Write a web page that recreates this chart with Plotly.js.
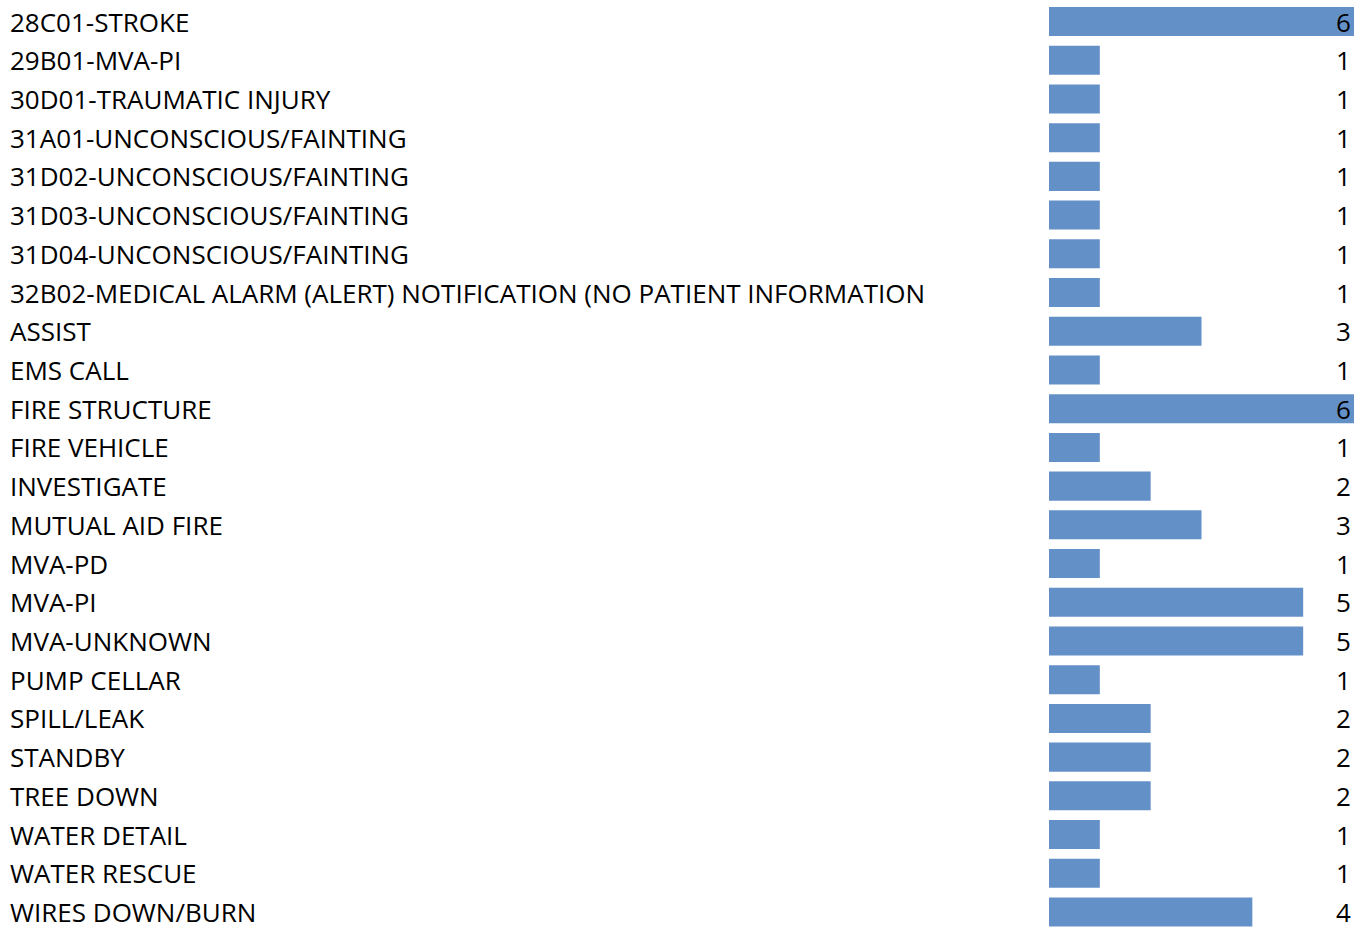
<!DOCTYPE html>
<html><head><meta charset="utf-8">
<script src="https://cdn.plot.ly/plotly-3.0.1.min.js"></script>
<style>html,body{margin:0;padding:0;background:#fff}#chart{width:1368px;height:929px}</style>
</head><body><div id="chart"></div>
<script>
const categories = ["28C01-STROKE","29B01-MVA-PI","30D01-TRAUMATIC INJURY","31A01-UNCONSCIOUS/FAINTING","31D02-UNCONSCIOUS/FAINTING","31D03-UNCONSCIOUS/FAINTING","31D04-UNCONSCIOUS/FAINTING","32B02-MEDICAL ALARM (ALERT) NOTIFICATION (NO PATIENT INFORMATION","ASSIST","EMS CALL","FIRE STRUCTURE","FIRE VEHICLE","INVESTIGATE","MUTUAL AID FIRE","MVA-PD","MVA-PI","MVA-UNKNOWN","PUMP CELLAR","SPILL/LEAK","STANDBY","TREE DOWN","WATER DETAIL","WATER RESCUE","WIRES DOWN/BURN"];
const counts = [6,1,1,1,1,1,1,1,3,1,6,1,2,3,1,5,5,1,2,2,2,1,1,4];

const FONT = "Open Sans, sans-serif";
const idx = categories.map((c,i)=>i);
const annotations = [];
categories.forEach((c,i)=>{
  annotations.push({xref:'paper', yref:'y', x:(8-1049)/305, y:i, yshift:0, text:c, showarrow:false, xanchor:'left', yanchor:'middle', font:{family:FONT,size:26,color:'#000'}});
  annotations.push({xref:'paper', yref:'y', x:(1353-1049)/305, y:i, yshift:0, text:String(counts[i]), showarrow:false, xanchor:'right', yanchor:'middle', font:{family:FONT,size:26,color:'#000'}});
});
Plotly.newPlot('chart', [{
  type:'bar', orientation:'h', x:counts, y:idx, width:0.75,
  marker:{color:'#6490c8'}, hoverinfo:'none'
}], {
  width:1368, height:929,
  margin:{l:1049, r:14, t:2, b:0},
  paper_bgcolor:'#fff', plot_bgcolor:'#fff',
  xaxis:{range:[0,6], visible:false, fixedrange:true},
  yaxis:{range:[23.439,-0.504], visible:false, fixedrange:true},
  showlegend:false,
  annotations:annotations
}, {displayModeBar:false, staticPlot:true});
</script></body></html>
